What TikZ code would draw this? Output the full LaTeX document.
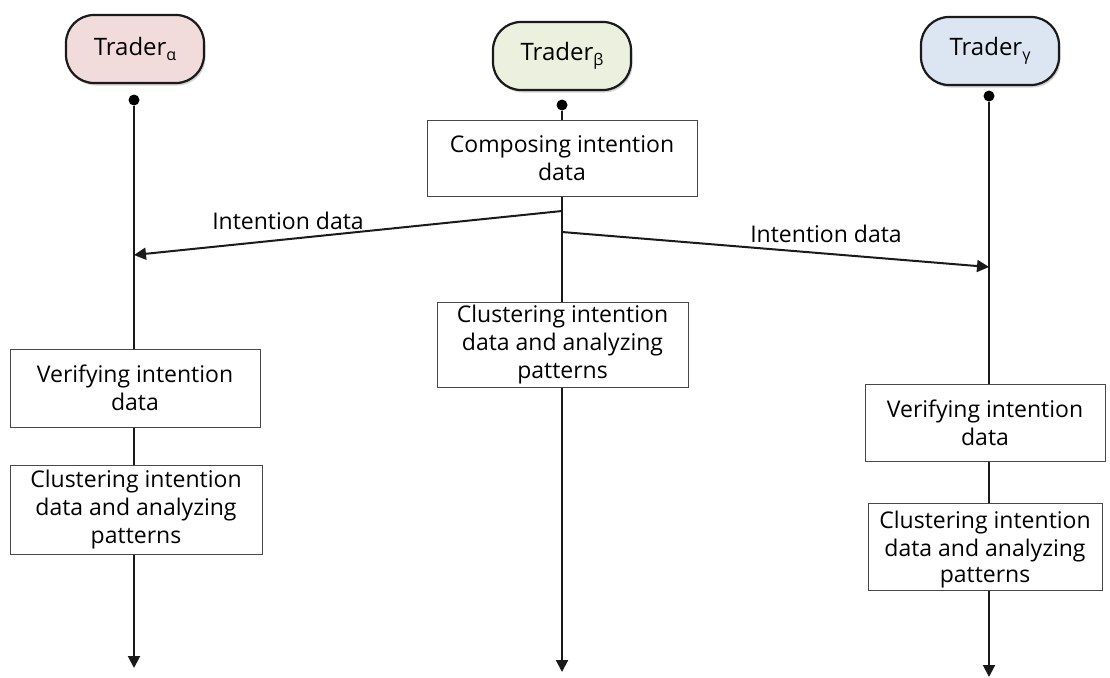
\documentclass[tikz,border=0pt]{standalone}
\usepackage{fontspec}
\setmainfont{Open Sans}
\usetikzlibrary{arrows.meta,shadows}
\definecolor{ink}{HTML}{1A1A1A}
\definecolor{fa}{HTML}{F2DCDB}
\definecolor{fb}{HTML}{EBF1DE}
\definecolor{fc}{HTML}{DCE6F2}
\tikzset{
  trader/.style={draw=ink, line width=2.2pt, rounded corners=28pt, minimum width=138pt, minimum height=68pt,
    inner sep=0pt, font=\fontsize{24}{28}\selectfont,
    drop shadow={shadow xshift=1.5pt, shadow yshift=-2.5pt, opacity=0.35, fill=gray}},
  stepbox/.style={draw=ink!80, line width=1pt, fill=white, align=center, inner sep=0pt,
    font=\fontsize{23}{28}\selectfont},
  life/.style={draw=ink, line width=2pt},
  msg/.style={draw=ink, line width=2pt, -{Triangle[length=12pt,width=12pt]}},
  dot/.style={circle, fill=black, inner sep=0pt, minimum size=11pt},
  lbl/.style={font=\fontsize{23}{26}\selectfont, inner sep=0pt}
}
\begin{document}
\begin{tikzpicture}[x=1pt,y=-1pt]
\useasboundingbox (0,0) rectangle (1110,677);
% traders
\node[trader, fill=fa] (tA) at (135,49) {Trader\raisebox{-5pt}{\fontsize{16}{16}\selectfont α}};
\node[trader, fill=fb] (tB) at (562,56) {Trader\raisebox{-5pt}{\fontsize{16}{16}\selectfont β}};
\node[trader, fill=fc] (tC) at (990,51) {Trader\raisebox{-5pt}{\fontsize{16}{16}\selectfont γ}};
% dots
\node[dot] (dA) at (134,100) {};
\node[dot] (dB) at (562,105) {};
\node[dot] (dC) at (989,96) {};
% boxes
\node[stepbox, minimum width=270pt, minimum height=76pt] (comp) at (562,158) {Composing intention\\data};
\node[stepbox, minimum width=251pt, minimum height=85pt] (cluB) at (562.5,344.5) {Clustering intention\\data and analyzing\\patterns};
\node[stepbox, minimum width=250pt, minimum height=78pt] (verA) at (135,388) {Verifying intention\\data};
\node[stepbox, minimum width=252pt, minimum height=89pt] (cluA) at (136,509.5) {Clustering intention\\data and analyzing\\patterns};
\node[stepbox, minimum width=240pt, minimum height=77pt] (verC) at (985,422.5) {Verifying intention\\data};
\node[stepbox, minimum width=234pt, minimum height=87pt, text depth=0pt] (cluC) at (985,546.5) {Clustering intention\\data and analyzing\\[-2pt]patterns};
% lifeline coordinates
\coordinate (sB1) at (562,211);
\coordinate (sB2) at (562,232);
\coordinate (rA) at (134,255);
\coordinate (rC) at (989,267);
\coordinate (eA) at (134,668);
\coordinate (eB) at (562,672);
\coordinate (eC) at (989,677);
% lifelines
\draw[life] (dA) -- (dA |- verA.north);
\draw[life] (dA |- verA.south) -- (dA |- cluA.north);
\draw[msg] (dA |- cluA.south) -- (eA);
\draw[life] (dB) -- (dB |- comp.north);
\draw[life] (dB |- comp.south) -- (dB |- cluB.north);
\draw[msg] (dB |- cluB.south) -- (eB);
\draw[life] (dC) -- (dC |- verC.north);
\draw[life] (dC |- verC.south) -- (dC |- cluC.north);
\draw[msg] (dC |- cluC.south) -- (eC);
% messages
\draw[msg] (sB1) -- (rA);
\draw[msg] (sB2) -- (rC);
\node[lbl] (lA) at (288,221) {Intention data};
\node[lbl] (lC) at (826,234) {Intention data};
\end{tikzpicture}
\end{document}
